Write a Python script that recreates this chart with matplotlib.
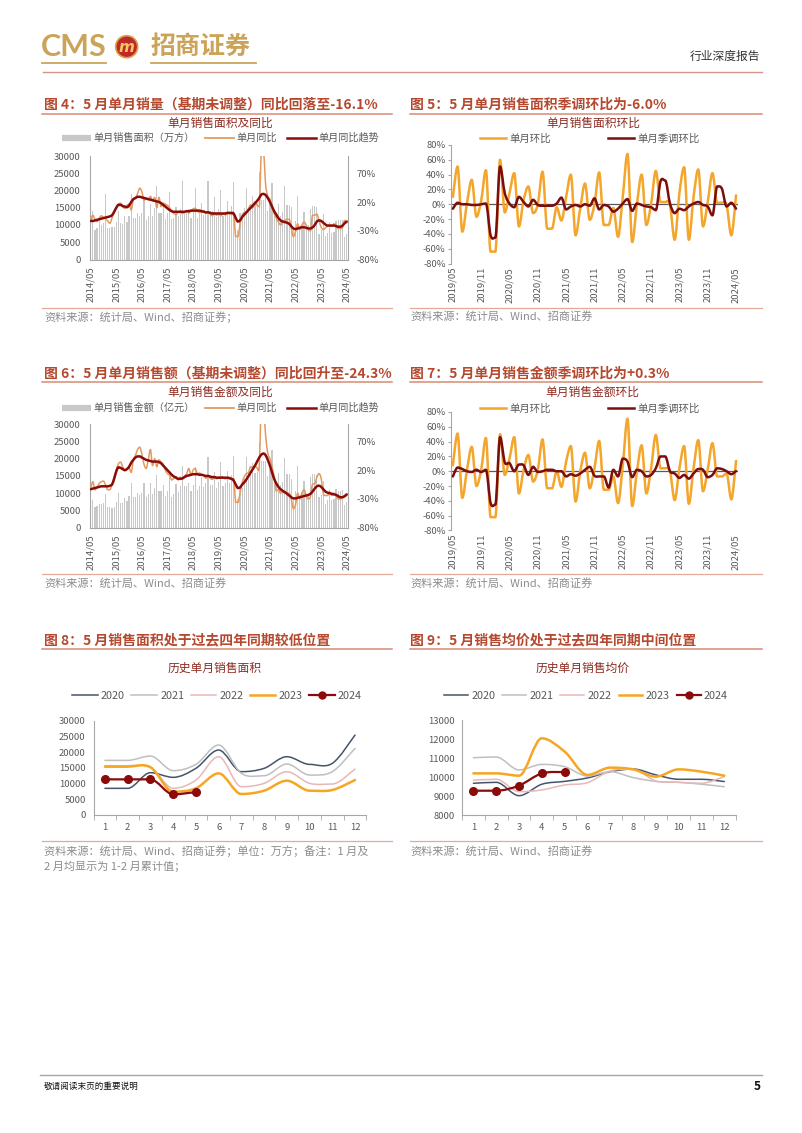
import matplotlib
matplotlib.use('Agg')
import matplotlib.pyplot as plt
from matplotlib.path import Path
from matplotlib.patches import PathPatch, Ellipse
from matplotlib.lines import Line2D
import numpy as np

plt.rcParams['font.family'] = ['Noto Sans CJK SC', 'DejaVu Sans']
plt.rcParams['axes.unicode_minus'] = False

# ---------------- 数据 ----------------
# 单月商品房销售面积（万方），1、2月均为1-2月累计值
area_2014 = [9800, 14000, 8600, 9000, 11500, 10000, 10500, 18900]          # 5-12月
area_2015 = [9000, 9000, 9300, 9400, 11000, 14200, 10500, 10300, 12500, 11000, 12700, 19100]
area_2016 = [12000, 12000, 13500, 12500, 13500, 17500, 11500, 12500, 16000, 12500, 15000, 21300]
area_2017 = [13500, 13500, 15500, 11800, 13500, 19600, 11600, 12000, 15300, 12500, 14500, 22700]
area_2018 = [13700, 13700, 14500, 11900, 14000, 20800, 12000, 13500, 16500, 13000, 14000, 22800]
area_2019 = [14000, 14000, 18200, 12400, 14600, 20100, 12700, 13500, 16900, 13300, 15500, 22400]
area_2020 = [8480, 8480, 13460, 11980, 14840, 20670, 13780, 14840, 18550, 16110, 16430, 25440]
area_2021 = [17380, 17380, 18760, 14100, 16100, 22260, 13250, 12510, 16220, 12720, 13780, 21200]
area_2022 = [15690, 15690, 15200, 8500, 11100, 18550, 9000, 10070, 13780, 10070, 9860, 14630]
area_2023 = [15370, 15370, 15200, 7420, 8480, 13250, 6680, 7740, 10920, 7740, 7950, 11130]
area_2024 = [11340, 11340, 11340, 6570, 7310]                               # 1-5月

# 单月销售面积同比（%）
area_yoy_2014 = [-12, -3, -10, -14, -8, -4, -7, -9]
area_yoy_2015 = [-13, -17, -8, 2, 10, 16, 18, 12, 9, 14, 16, 6]
area_yoy_2016 = [24, 26, 35, 44, 38, 23, 26, 24, 30, 22, 28, 10]
area_yoy_2017 = [28, 12, 18, 16, 14, 10, 4, 0, -2, 2, 4, 0]
area_yoy_2018 = [3, 5, 1, 4, 8, 9, 4, 2, 3, 5, 1, 3]
area_yoy_2019 = [-1, -4, 1, -3, 0, -4, -1, -2, -1, 2, -2, 0]
area_yoy_2020 = [-40, -40, -19, -3, 2, 3, 9, 15, 10, 20, 14, 12]
area_yoy_2021 = [105, 105, 50, 30, 25, 12, 0, -8, -15, -20, -14, -12]
area_yoy_2022 = [-10, -10, -25, -40, -32, -18, -28, -20, -15, -20, -28, -30]
area_yoy_2023 = [-3, -3, -1, -12, -24, -28, -25, -22, -20, -22, -18, -20]
area_yoy_2024 = [-26, -26, -25, -12, -16.1]

# 单月同比趋势（%）
area_trend_2014 = [-13, -13, -12, -11, -10, -9, -8, -7]
area_trend_2015 = [-6, -5, -3, 3, 10, 15, 15, 13, 12, 11, 14, 20]
area_trend_2016 = [25, 27, 29, 29, 28, 27, 26, 25, 24, 23, 22, 21]
area_trend_2017 = [20, 18, 15, 12, 9, 6, 4, 3, 3, 3, 3, 3]
area_trend_2018 = [3, 4, 4, 5, 5, 5, 5, 5, 4, 3, 2, 2]
area_trend_2019 = [1, 0, 0, 0, 0, 0, 0, 0, 1, 1, 1, 0]
area_trend_2020 = [-8, -14, -12, -6, -2, 2, 6, 10, 14, 18, 22, 27]
area_trend_2021 = [33, 34, 32, 27, 20, 12, 4, -2, -8, -12, -14, -15]
area_trend_2022 = [-16, -18, -22, -26, -27, -26, -25, -24, -24, -25, -26, -26]
area_trend_2023 = [-24, -20, -14, -12, -13, -16, -19, -21, -21, -21, -21, -22]
area_trend_2024 = [-23, -23, -21, -17, -14]

# 单月销售金额（亿元）
amt_2014 = [6200, 8000, 5900, 6300, 7000, 6800, 7300, 9700]
amt_2015 = [6000, 6000, 5700, 6000, 7400, 10000, 7200, 7300, 8700, 7800, 9200, 12900]
amt_2016 = [8800, 8800, 10000, 9500, 10000, 13000, 8800, 9900, 13000, 9800, 11500, 15300]
amt_2017 = [10700, 10700, 12500, 9200, 10700, 15100, 9000, 9700, 12800, 10300, 12200, 18000]
amt_2018 = [12000, 12000, 13000, 10500, 12500, 17500, 10800, 12000, 14800, 11800, 13100, 20600]
amt_2019 = [12500, 12500, 16000, 11500, 13300, 18900, 12200, 13000, 16300, 13000, 15300, 20700]
amt_2020 = [8230, 8230, 12150, 11540, 14510, 20590, 14180, 15480, 18770, 15930, 16250, 24850]
amt_2021 = [19190, 19190, 19470, 15040, 16990, 22390, 13630, 12480, 15860, 12380, 13270, 20140]
amt_2022 = [15470, 15470, 14040, 7930, 10640, 18010, 9300, 10480, 13500, 9800, 9540, 14670]
amt_2023 = [15680, 15680, 15320, 8930, 9620, 13410, 7010, 8060, 10950, 8060, 8180, 11220]
amt_2024 = [10530, 10530, 10840, 6700, 7510]

amt_yoy_2014 = [-12, 0, -14, -10, -3, 0, 1, -6]
amt_yoy_2015 = [-14, -14, -4, 8, 20, 31, 34, 26, 20, 22, 24, 16]
amt_yoy_2016 = [38, 46, 56, 60, 48, 30, 23, 38, 56, 28, 40, 26]
amt_yoy_2017 = [38, 34, 30, 20, 14, 11, 3, 6, 9, 3, 8, 4]
amt_yoy_2018 = [10, 14, 23, 11, 20, 23, 14, 15, 12, 11, 6, 9]
amt_yoy_2019 = [6, 4, 8, 5, 7, 9, 8, 5, 6, 8, 4, 6]
amt_yoy_2020 = [-36, -36, -20, -2, 9, 14, 16, 26, 24, 28, 24, 28]
amt_yoy_2021 = [130, 130, 80, 50, 40, 26, 8, -16, -14, -20, -18, -20]
amt_yoy_2022 = [-20, -20, -30, -47, -40, -20, -30, -20, -14, -24, -30, -26]
amt_yoy_2023 = [-4, -4, 8, 14, 6, -20, -24, -24, -18, -24, -20, -24]
amt_yoy_2024 = [-30, -30, -28, -26, -24.3]

amt_trend_2014 = [-13, -12, -11, -10, -9, -8, -8, -8]
amt_trend_2015 = [-8, -7, -5, 5, 18, 25, 24, 22, 20, 22, 26, 33]
amt_trend_2016 = [38, 42, 44, 44, 42, 40, 38, 37, 36, 35, 35, 35]
amt_trend_2017 = [34, 32, 28, 24, 20, 16, 12, 9, 7, 5, 5, 6]
amt_trend_2018 = [8, 10, 11, 12, 13, 13, 13, 12, 12, 11, 10, 10]
amt_trend_2019 = [9, 8, 8, 7, 7, 7, 7, 7, 7, 6, 5, 2]
amt_trend_2020 = [-5, -11, -10, -5, -1, 4, 10, 16, 22, 28, 35, 42]
amt_trend_2021 = [47, 49, 46, 38, 28, 16, 5, -3, -9, -13, -16, -18]
amt_trend_2022 = [-21, -24, -27, -29, -29, -28, -27, -26, -25, -24, -23, -21]
amt_trend_2023 = [-17, -12, -8, -7, -9, -13, -17, -19, -20, -21, -22, -23]
amt_trend_2024 = [-25, -27, -27, -25, -22]

year_labels = ['2014/05', '2015/05', '2016/05', '2017/05', '2018/05', '2019/05',
               '2020/05', '2021/05', '2022/05', '2023/05', '2024/05']

# 环比（%），2019/05-2024/05
half_labels = ['2019/05', '2019/11', '2020/05', '2020/11', '2021/05', '2021/11',
               '2022/05', '2022/11', '2023/05', '2023/11', '2024/05']
area_mom = [10, 51, -37, 2, 33, -17, 5, 46,
            -64, -64, 60, -11, 15, 42, -30, 6, 24, -12, 0, 44,
            -33, -33, -4, -22, 10, 40, -42, -5, 28, -21, 0, 43,
            -28, -28, -5, -44, 10, 68, -51, 0, 40, -28, 0, 45,
            3, 3, -1, -48, 15, 50, -48, 10, 47, -30, 3, 42,
            2, 2, -1, -42, 12]
area_mom_sa = [-6, 2, 0, 0, -1, -1, 0, 1,
               -42, -45, 51, 15, 1, -4, 10, 3, -3, 6, -1, -2,
               -2, -2, 1, 9, -7, -3, -1, -3, 0, -2, 8, -7,
               -1, -3, -10, -6, 1, 7, -9, 1, -1, -3, -4, -8,
               31, 32, 1, -12, -6, -8, -3, 1, 3, -1, -3, -15,
               24, 21, -3, 2, -6]
amt_mom = [8, 51, -36, 2, 33, -20, 2, 45,
           -62, -62, 50, -5, 17, 46, -30, 2, 22, -14, 2, 43,
           -23, -23, 0, -21, 13, 34, -41, 0, 25, -23, 4, 41,
           -25, -25, -7, -43, 8, 71, -47, 0, 35, -30, 4, 49,
           4, 4, 0, -39, 4, 34, -44, 4, 42, -27, 2, 38,
           -7, -7, -3, -38, 14]
amt_mom_sa = [-7, 5, 3, 0, -1, 2, -1, 2,
              -43, -45, 46, 12, 11, 0, 9, 8, -5, 6, -1, 0,
              2, 2, 0, 0, -7, -4, -6, -3, 2, 6, -6, -7,
              -7, -22, 2, -7, 17, 13, -8, 2, 0, -7, -5, 4,
              20, 20, 0, -3, -9, -5, -10, -3, 3, 2, -8, -5,
              4, 3, 0, -4, 0.3]

# 历史单月销售均价（元/平方米）
price_2020 = [9680, 9730, 9030, 9630, 9780, 9960, 10290, 10430, 10120, 9890, 9890, 9770]
price_2021 = [11020, 11060, 10380, 10670, 10550, 10060, 10290, 9980, 9780, 9730, 9630, 9500]
price_2022 = [9840, 9890, 9240, 9330, 9590, 9710, 10330, 10410, 9800, 9730, 9680, 10030]
price_2023 = [10200, 10200, 10080, 12040, 11340, 10120, 10500, 10410, 10030, 10410, 10290, 10080]
price_2024 = [9290, 9290, 9560, 10200, 10270]

years = ['2020', '2021', '2022', '2023', '2024']
year_colors = ['#44546A', '#BFBFBF', '#E6B8B7', '#F5A623', '#8B0A0A']

area = area_2014 + area_2015 + area_2016 + area_2017 + area_2018 + area_2019 + \
    area_2020 + area_2021 + area_2022 + area_2023 + area_2024
area_yoy = area_yoy_2014 + area_yoy_2015 + area_yoy_2016 + area_yoy_2017 + area_yoy_2018 + \
    area_yoy_2019 + area_yoy_2020 + area_yoy_2021 + area_yoy_2022 + area_yoy_2023 + area_yoy_2024
area_trend = area_trend_2014 + area_trend_2015 + area_trend_2016 + area_trend_2017 + area_trend_2018 + \
    area_trend_2019 + area_trend_2020 + area_trend_2021 + area_trend_2022 + area_trend_2023 + area_trend_2024
amt = amt_2014 + amt_2015 + amt_2016 + amt_2017 + amt_2018 + amt_2019 + \
    amt_2020 + amt_2021 + amt_2022 + amt_2023 + amt_2024
amt_yoy = amt_yoy_2014 + amt_yoy_2015 + amt_yoy_2016 + amt_yoy_2017 + amt_yoy_2018 + \
    amt_yoy_2019 + amt_yoy_2020 + amt_yoy_2021 + amt_yoy_2022 + amt_yoy_2023 + amt_yoy_2024
amt_trend = amt_trend_2014 + amt_trend_2015 + amt_trend_2016 + amt_trend_2017 + amt_trend_2018 + \
    amt_trend_2019 + amt_trend_2020 + amt_trend_2021 + amt_trend_2022 + amt_trend_2023 + amt_trend_2024

# ---------------- 画布 ----------------
W, H = 802, 1133
fig = plt.figure(figsize=(W / 100, H / 100), dpi=100)

GRAY_TXT = '#595959'
TITLE_C = '#B5492F'
SUB_C = '#8C2A20'
LINE_C = '#D98A74'


def fx(x):
    return x / W


def fy(y):
    return 1 - y / H


def add_ax(x0, y0, x1, y1):
    return fig.add_axes([x0 / W, 1 - y1 / H, (x1 - x0) / W, (y1 - y0) / H])


def hline(x0, x1, y, color, lw):
    fig.add_artist(Line2D([fx(x0), fx(x1)], [fy(y), fy(y)], color=color, lw=lw))


def smooth_path(xs, ys):
    # 平滑曲线：以数据点为锚点的三次贝塞尔，极值点处切线水平
    pts = np.column_stack([xs, ys]).astype(float)
    n = len(pts)
    tang = np.zeros_like(pts)
    for i in range(n):
        a = pts[max(i - 1, 0)]
        b = pts[min(i + 1, n - 1)]
        tang[i] = (b - a) / 2
        if 0 < i < n - 1:
            if (pts[i, 1] - a[1]) * (b[1] - pts[i, 1]) <= 0:
                tang[i, 1] = 0
    verts = [pts[0]]
    codes = [Path.MOVETO]
    for i in range(n - 1):
        verts += [pts[i] + tang[i] / 3, pts[i + 1] - tang[i + 1] / 3, pts[i + 1]]
        codes += [Path.CURVE4] * 3
    return Path(verts, codes)


def smooth_line(ax, xs, ys, color, lw, z=3):
    ax.add_patch(PathPatch(smooth_path(xs, ys), fill=False, edgecolor=color, lw=lw,
                           zorder=z, capstyle='round', joinstyle='round'))


def legend_at(handles, labels, cx, cy, fs, hl, cs, tp=0.3):
    fig.legend(handles, labels, loc='center', bbox_to_anchor=(fx(cx), fy(cy)),
               ncol=len(handles), frameon=False, fontsize=fs, handlelength=hl,
               columnspacing=cs, handletextpad=tp, labelcolor=GRAY_TXT,
               borderpad=0, borderaxespad=0, numpoints=1)


def bar_block(top, bars, yoy, trend):
    ax = add_ax(89.6, top, 347.8, top + 103.5)
    x = np.arange(len(bars))
    ax.bar(x, bars, width=0.55, color='#C8C8C8', linewidth=0, zorder=1)
    ax.set_xlim(-0.5, len(bars) - 0.5)
    ax.set_ylim(0, 30000)
    ax.set_yticks(np.arange(0, 30001, 5000))
    ax.set_xticks(np.arange(0, len(bars), 12), labels=year_labels, rotation=90)
    ax.tick_params(axis='both', length=0, labelsize=6.8, labelcolor=GRAY_TXT)
    ax.tick_params(axis='y', pad=6.4)
    ax.tick_params(axis='x', pad=5)
    ax.spines['top'].set_visible(False)
    for s in ['left', 'right', 'bottom']:
        ax.spines[s].set_color('#A6A6A6')
        ax.spines[s].set_linewidth(0.8)
    ax2 = ax.twinx()
    ax2.set_ylim(-80, 100)
    ax2.set_yticks([-80, -30, 20, 70], labels=['-80%', '-30%', '20%', '70%'])
    ax2.tick_params(length=0, labelsize=6.8, labelcolor=GRAY_TXT, pad=6.4)
    for s in ax2.spines.values():
        s.set_visible(False)
    smooth_line(ax2, x, yoy, '#E39A5E', 1.1)
    smooth_line(ax2, x, trend, '#8B0B0B', 1.8, z=4)


def mom_block(top, orange, red):
    ax = add_ax(450.5, top, 738.4, top + 118.5)
    x = np.arange(len(orange))
    ax.set_xlim(-0.5, len(orange) - 0.5)
    ax.set_ylim(-80, 80)
    ax.axhline(0, color='#5A5A5A', lw=0.9, zorder=1)
    smooth_line(ax, x, orange, '#F4A52B', 1.8)
    smooth_line(ax, x, red, '#7B0D0D', 1.8, z=4)
    ticks = np.arange(-80, 81, 20)
    ax.set_yticks(ticks, labels=[f'{v}%' for v in ticks])
    ax.set_xticks(np.arange(0, len(orange), 6), labels=half_labels, rotation=90)
    ax.tick_params(axis='y', length=2.5, color='#A6A6A6', labelsize=6.8,
                   labelcolor=GRAY_TXT, pad=1)
    ax.tick_params(axis='x', length=0, labelsize=6.8, labelcolor=GRAY_TXT, pad=2.5)
    for s in ['top', 'right', 'bottom']:
        ax.spines[s].set_visible(False)
    ax.spines['left'].set_color('#A6A6A6')
    ax.spines['left'].set_linewidth(0.8)


def year_block(x0, x1, top, bottom, series, ylo, yhi, ystep, ypad):
    ax = add_ax(x0, top, x1, bottom)
    widths = [1.1, 1.1, 1.1, 1.8, 1.6]
    for vals, c, lw in zip(series, year_colors, widths):
        smooth_line(ax, np.arange(1, len(vals) + 1), vals, c, lw)
    last = series[-1]
    ax.plot(np.arange(1, len(last) + 1), last, 'o', color=year_colors[-1], ms=5.5, zorder=5)
    ax.set_xlim(0.5, 12.5)
    ax.set_ylim(ylo, yhi)
    ax.set_yticks(np.arange(ylo, yhi + 1, ystep))
    ax.set_xticks(np.arange(1, 13))
    ax.set_xticks(np.arange(0.5, 12.6, 1), minor=True)
    ax.tick_params(axis='x', which='major', length=0, labelsize=6.8, labelcolor=GRAY_TXT, pad=5.5)
    ax.tick_params(axis='x', which='minor', length=3.5, color='#A6A6A6')
    ax.tick_params(axis='y', length=0, labelsize=6.8, labelcolor=GRAY_TXT, pad=ypad)
    for s in ['top', 'right']:
        ax.spines[s].set_visible(False)
    for s in ['left', 'bottom']:
        ax.spines[s].set_color('#A6A6A6')
        ax.spines[s].set_linewidth(0.8)


# ---------------- 页眉 ----------------
fig.text(fx(41), fy(47), 'CMS', fontsize=22, fontweight='bold', color='#CBA45A',
         va='center', ha='left', family=['Lato', 'DejaVu Sans'])
fig.add_artist(Ellipse((fx(126.7), fy(46.7)), 22 / W, 22 / H, transform=fig.transFigure,
                       facecolor='#C0282D', edgecolor='#D9A441', lw=1.2))
fig.text(fx(126.7), fy(47), 'm', fontsize=11, fontweight='bold', style='italic',
         color='#F2C75C', ha='center', va='center', family=['DejaVu Sans'])
fig.text(fx(151), fy(47), '招商证券', fontsize=18, fontweight='bold', color='#CBA45A',
         va='center', ha='left')
hline(42, 106, 62.5, '#CBA45A', 1.3)
hline(151, 256, 62.5, '#CBA45A', 1.3)
hline(43, 762, 72.3, '#D49488', 1.0)
fig.text(fx(760), fy(56), '行业深度报告', fontsize=8.5, color='#333333', ha='right', va='center')

# ---------------- 标题 / 来源 ----------------
titles = [
    (44, 105, '图 4：5 月单月销量（基期未调整）同比回落至-16.1%'),
    (410, 105, '图 5：5 月单月销售面积季调环比为-6.0%'),
    (44, 373.3, '图 6：5 月单月销售额（基期未调整）同比回升至-24.3%'),
    (410, 373.3, '图 7：5 月单月销售金额季调环比为+0.3%'),
    (44, 640.3, '图 8：5 月销售面积处于过去四年同期较低位置'),
    (410, 640.3, '图 9：5 月销售均价处于过去四年同期中间位置'),
]
for x, y, t in titles:
    fig.text(fx(x), fy(y), t, fontsize=10, fontweight='bold', color=TITLE_C,
             ha='left', va='center')

for y in [114, 382.3, 649.3]:
    hline(42, 392, y, LINE_C, 1.1)
    hline(410, 762, y, LINE_C, 1.1)
for y in [308.3, 573.7, 840.7]:
    hline(42, 392, y, '#E3A999', 0.9)
    hline(410, 762, y, '#E3A999', 0.9)

src = '资料来源：统计局、Wind、招商证券'
SRC_C = '#8C8C8C'
fig.text(fx(44), fy(316.7), src + '；', fontsize=8, color=SRC_C, va='center')
fig.text(fx(410), fy(316.7), src, fontsize=8, color=SRC_C, va='center')
fig.text(fx(44), fy(583.3), src, fontsize=8, color=SRC_C, va='center')
fig.text(fx(410), fy(583.3), src, fontsize=8, color=SRC_C, va='center')
fig.text(fx(44), fy(851), src + '；单位：万方；备注：1 月及', fontsize=8, color=SRC_C, va='center')
fig.text(fx(44), fy(866), '2 月均显示为 1-2 月累计值；', fontsize=8, color=SRC_C, va='center')
fig.text(fx(410), fy(851), src, fontsize=8, color=SRC_C, va='center')

# ---------------- 副标题与图例 ----------------
subs = [(220, 123, '单月销售面积及同比'), (593, 123, '单月销售面积环比'),
        (220, 392, '单月销售金额及同比'), (592, 392, '单月销售金额环比'),
        (215, 668, '历史单月销售面积'), (583, 668, '历史单月销售均价')]
for x, y, t in subs:
    fig.text(fx(x), fy(y), t, fontsize=8.5, color=SUB_C, ha='center', va='center')

bar_h = Line2D([], [], color='#C8C8C8', lw=4.5, solid_capstyle='butt')
yoy_h = Line2D([], [], color='#E39A5E', lw=1.3)
trd_h = Line2D([], [], color='#8B0B0B', lw=1.8)
legend_at([bar_h, yoy_h, trd_h], ['单月销售面积（万方）', '单月同比', '单月同比趋势'],
          221, 138, 7.3, 2.8, 1.0)
legend_at([bar_h, yoy_h, trd_h], ['单月销售金额（亿元）', '单月同比', '单月同比趋势'],
          221, 408, 7.3, 2.8, 1.0)

mo_h = Line2D([], [], color='#F4A52B', lw=1.8)
mr_h = Line2D([], [], color='#7B0D0D', lw=1.8)
legend_at([mo_h, mr_h], ['单月环比', '单月季调环比'], 590, 139, 7.5, 2.5, 5.5)
legend_at([mo_h, mr_h], ['单月环比', '单月季调环比'], 590, 409, 7.5, 2.5, 5.5)

yh = [Line2D([], [], color=c, lw=w) for c, w in zip(year_colors[:4], [1.1, 1.1, 1.1, 1.8])]
yh.append(Line2D([], [], color=year_colors[4], lw=1.6, marker='o', ms=5))
legend_at(yh, years, 217, 696, 7.8, 2.35, 0.6)
legend_at(yh, years, 586, 696, 7.8, 2.2, 0.65)

# ---------------- 图表 ----------------
bar_block(156, area, area_yoy, area_trend)
bar_block(424.2, amt, amt_yoy, amt_trend)
mom_block(145, area_mom, area_mom_sa)
mom_block(412, amt_mom, amt_mom_sa)
year_block(93.6, 366.4, 720.7, 815, [area_2020, area_2021, area_2022, area_2023, area_2024],
           0, 30000, 5000, 5.7)
year_block(462, 735.7, 720, 815.3, [price_2020, price_2021, price_2022, price_2023, price_2024],
           8000, 13000, 1000, 5)

# ---------------- 页脚 ----------------
hline(40, 762, 1075.3, '#A6A6A6', 1.0)
fig.text(fx(44), fy(1086), '敬请阅读末页的重要说明', fontsize=6.2, color='#111111', va='center')
fig.text(fx(761), fy(1086), '5', fontsize=8.5, fontweight='bold', color='#111111',
         ha='right', va='center')

fig.savefig('out.png', dpi=100)
